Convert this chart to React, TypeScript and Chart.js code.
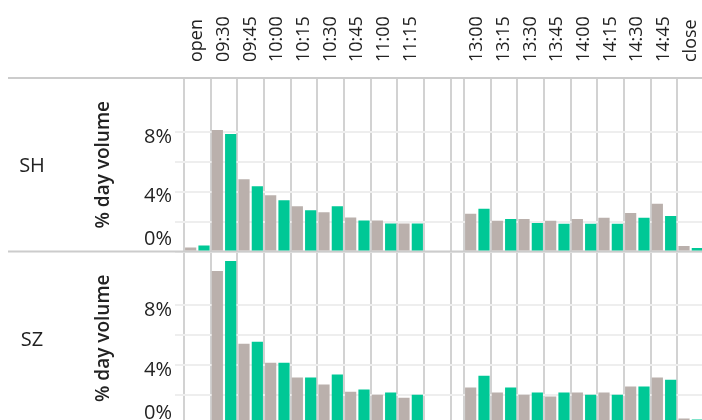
import React, { useEffect, useRef } from 'react';
import { Chart, registerables } from 'chart.js';

Chart.register(...registerables);

// ---- data ----
const categories = ['open', '09:30', '09:45', '10:00', '10:15', '10:30', '10:45', '11:00', '11:15',
  '13:00', '13:15', '13:30', '13:45', '14:00', '14:15', '14:30', '14:45', 'close'];
const rowLabels = ['SH', 'SZ'];
const shGray = [0.27, 8.12, 4.83, 3.76, 3.02, 2.62, 2.28, 2.08, 1.88, 2.52, 2.05, 2.18, 2.05, 2.18, 2.25, 2.58, 3.19, 0.37];
const shGreen = [0.4, 7.85, 4.36, 3.42, 2.75, 3.02, 2.08, 1.88, 1.88, 2.85, 2.18, 1.91, 1.85, 1.85, 1.85, 2.25, 2.38, 0.23];
const szGray = [0.2, 10.3, 5.43, 4.17, 3.17, 2.7, 2.23, 2.03, 1.83, 2.5, 2.17, 2.03, 1.9, 2.17, 2.17, 2.57, 3.17, 0.43];
const szGreen = [0.25, 10.97, 5.57, 4.17, 3.17, 3.37, 2.37, 2.17, 2.03, 3.3, 2.5, 2.17, 2.17, 2.03, 2.03, 2.57, 3.03, 0.37];
const yMax = 11.6;
const yGridStep = 2;
const yLabelStep = 4;
const lunchAfter = '11:15';
const lunchGap = 1.5;

// ---- styles ----
const GRAY = '#bab0ac';
const GREEN = '#00c896';
const TEXT = '#222222';
const FONT = '"Open Sans", sans-serif';
const VGRID = '#d2d2d2';
const HGRID = '#eeeeee';
const SEP = '#cccccc';
const X_FONT_SIZE = 18;
const X_LINE_HEIGHT = 1.2;

const lunchIdx = categories.indexOf(lunchAfter);
const xCenters = categories.map((_, i) => i + 0.5 + (i > lunchIdx ? lunchGap : 0));
const xMax = xCenters[xCenters.length - 1] + 0.5;
const gridEdges = Array.from(new Set([
  ...xCenters.map(v => v - 0.5),
  ...xCenters.map(v => v + 0.5),
  xCenters[lunchIdx] + 1.5,
])).sort((a, b) => a - b);

const pts = (arr: number[]) => arr.map((y, i) => ({ x: xCenters[i], y }));

const facetPlugin = {
  id: 'facetDecor',
  beforeDatasetsDraw(chart: any) {
    const { ctx } = chart;
    const a = chart.scales.ySH;
    const b = chart.scales.ySZ;
    ctx.save();
    ctx.strokeStyle = SEP;
    ctx.lineWidth = 2;
    [a.top, a.bottom, b.bottom].forEach((y: number) => {
      ctx.beginPath();
      ctx.moveTo(8, y);
      ctx.lineTo(chart.width, y);
      ctx.stroke();
    });
    ctx.restore();
  },
  afterDraw(chart: any) {
    const { ctx } = chart;
    const rows = [chart.scales.ySH, chart.scales.ySZ];
    ctx.save();
    ctx.fillStyle = TEXT;
    ctx.font = `20px ${FONT}`;
    ctx.textAlign = 'center';
    ctx.textBaseline = 'middle';
    rows.forEach((s: any, i: number) => {
      ctx.fillText(rowLabels[i], 32, (s.top + s.bottom) / 2 + 2);
    });
    ctx.restore();
  },
};

const yScale = () => ({
  type: 'linear',
  position: 'left',
  stack: 'rows',
  stackWeight: 1,
  stacked: false,
  min: 0,
  max: yMax,
  afterFit: (s: any) => { s.width = 184; s.paddingTop = 0; s.paddingBottom = 0; },
  border: { display: false },
  grid: {
    color: (c: any) => (c.tick && c.tick.value > yMax - 1 ? 'rgba(0,0,0,0)' : HGRID),
    lineWidth: 2,
    tickLength: 9,
    drawTicks: true,
  },
  ticks: {
    autoSkip: false,
    stepSize: yGridStep,
    padding: 3,
    labelOffset: 5,
    color: TEXT,
    font: (c: any) => ({ family: FONT, size: 20, lineHeight: c.tick && c.tick.value === 0 ? 1.7 : 1.2 }),
    callback: (v: number) => (v % yLabelStep === 0 ? (v === 0 ? ['0%', ''] : `${v}%`) : ''),
  },
  title: {
    display: true,
    text: '% day volume',
    color: TEXT,
    font: { family: FONT, size: 19, weight: '600' },
    padding: { top: 92, bottom: 0 },
  },
});

export default function App() {
  const ref = useRef<HTMLCanvasElement | null>(null);
  useEffect(() => {
    if (!ref.current) return;
    const chart = new Chart(ref.current, {
      type: 'bar',
      data: {
        datasets: [
          { label: 'SH a', data: pts(shGray), backgroundColor: GRAY, yAxisID: 'ySH', stack: 'a' },
          { label: 'SH b', data: pts(shGreen), backgroundColor: GREEN, yAxisID: 'ySH', stack: 'b' },
          { label: 'SZ a', data: pts(szGray), backgroundColor: GRAY, yAxisID: 'ySZ', stack: 'a' },
          { label: 'SZ b', data: pts(szGreen), backgroundColor: GREEN, yAxisID: 'ySZ', stack: 'b' },
        ] as any,
      },
      options: {
        animation: false,
        responsive: false,
        layout: { padding: 0 },
        datasets: { bar: { barPercentage: 0.84, categoryPercentage: 1.0, borderWidth: 0 } } as any,
        plugins: { legend: { display: false }, tooltip: { enabled: false } },
        scales: {
          x: {
            type: 'linear',
            position: 'top',
            offset: false,
            min: 0,
            max: xMax,
            afterBuildTicks: (s: any) => { s.ticks = xCenters.map(v => ({ value: v })); },
            afterFit: (s: any) => { s.height = 78; s.paddingLeft = 0; s.paddingRight = 0; },
            grid: { display: false, drawTicks: false, offset: false },
            border: { display: false },
            ticks: {
              autoSkip: false,
              minRotation: 90,
              maxRotation: 90,
              padding: 16,
              labelOffset: X_FONT_SIZE * X_LINE_HEIGHT,
              color: TEXT,
              font: { family: FONT, size: X_FONT_SIZE, lineHeight: X_LINE_HEIGHT },
              callback: (_v: any, i: number) => categories[i],
            },
          },
          xg: {
            type: 'linear',
            position: 'bottom',
            offset: false,
            min: 0,
            max: xMax,
            afterBuildTicks: (s: any) => { s.ticks = gridEdges.map(v => ({ value: v })); },
            afterFit: (s: any) => { s.height = 0; s.paddingLeft = 0; s.paddingRight = 0; },
            grid: { color: VGRID, lineWidth: 2, drawTicks: false, offset: false },
            border: { display: false },
            ticks: { display: false },
          },
          ySZ: yScale(),
          ySH: yScale(),
        } as any,
      },
      plugins: [facetPlugin],
    });
    return () => chart.destroy();
  }, []);
  return (
    <div style={{ position: 'absolute', left: 0, top: 0, width: 702, height: 420, overflow: 'hidden', background: '#fff' }}>
      <canvas ref={ref} width={704} height={425} style={{ display: 'block' }} />
    </div>
  );
}
